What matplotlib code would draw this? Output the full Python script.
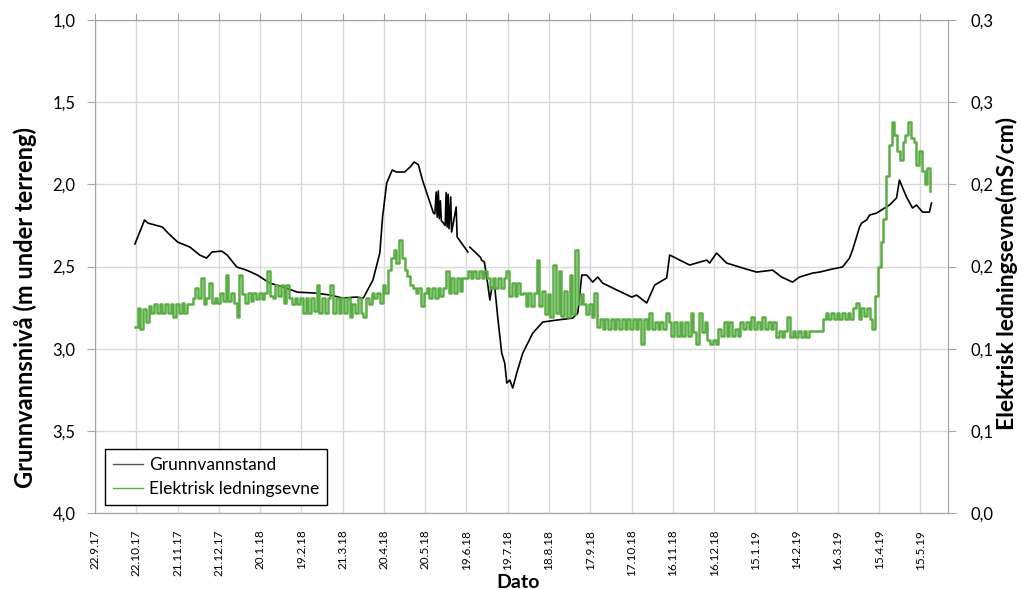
import datetime as dt
import numpy as np
import matplotlib
matplotlib.use("Agg")
import matplotlib.pyplot as plt

plt.rcParams['font.family'] = ['Lato', 'DejaVu Sans']

start = dt.datetime(2017, 9, 22)
tick_days = list(range(0, 601, 30))

# groundwater level, days after 22.9.17 -> m under terrain (NaN = gap in logging)
black_days = [29, 36, 38.5, 49, 53, 60, 69, 76, 81, 85, 92, 96, 103, 110, 118,
              127, 137, 147, 161, 171, 180, 190, 195, 202, 207, 209, 212, 216,
              219, 225, 229, 232, 235, 238, 246,
              247, 248, 248.7, 249.5, 250.2, 251, 251.7, 254.5, 255.2, 255.9,
              256.6, 257.3, 258.5, 259.2, 262.5, 263.2, 271, 271.7,
              272.4, 280, 281, 283, 285, 287, 288.4, 290.6, 292.7, 295.6, 297.8,
              299.3, 301.5, 303.6, 306.5, 310.9, 318.2, 325.4, 335.6, 347.2,
              350.9, 353.8, 357.4, 361.7, 365.4, 369, 379.2, 390.1, 393.7, 401,
              406.8, 410.4, 415.5, 417.7, 425, 432.2, 444.6, 446.7, 451.8, 459.1,
              470.7, 480.9, 492.5, 499, 507, 512.1, 521.6, 526.6, 536.1, 543.3,
              548.4, 550.6, 555.7, 557.2, 560.8, 563, 568.1, 573.9, 577.5, 582.6,
              584.7, 589.8, 594.2, 597.1, 601.5, 606.5, 608]
black_level = [2.363, 2.217, 2.236, 2.26, 2.296, 2.351, 2.382, 2.43, 2.449, 2.412,
               2.406, 2.43, 2.503, 2.522, 2.552, 2.601, 2.625, 2.656, 2.662,
               2.674, 2.692, 2.686, 2.692, 2.582, 2.418, 2.199, 1.992, 1.913,
               1.925, 1.925, 1.895, 1.864, 1.88, 1.974, 2.175,
               2.18, 2.047, 2.20, 2.04, 2.21, 2.10, 2.22, 2.25, 2.05, 2.26,
               2.06, 2.27, 2.077, 2.29, 2.138, 2.32, 2.412, np.nan,
               2.382, 2.443, 2.461, 2.473, 2.582, 2.704, 2.625, 2.631, 2.808,
               3.027, 3.088, 3.209, 3.191, 3.24, 3.149, 3.027, 2.905, 2.838,
               2.826, 2.814, 2.783, 2.552, 2.552, 2.595, 2.564, 2.601, 2.643,
               2.686, 2.674, 2.722, 2.613, 2.595, 2.57, 2.43, 2.461, 2.491,
               2.461, 2.479, 2.418, 2.479, 2.509, 2.534, 2.522, 2.564, 2.595,
               2.564, 2.54, 2.534, 2.515, 2.503, 2.449, 2.40, 2.26, 2.236,
               2.217, 2.187, 2.175, 2.144, 2.126, 2.083, 1.974, 2.077, 2.144,
               2.126, 2.169, 2.169, 2.114]

# electrical conductivity (mS/cm), one reading every 2nd day from day 29
green_first_day = 29
green_ec = [
    0.113, 0.125, 0.112, 0.124, 0.116, 0.126, 0.122, 0.127, 0.122, 0.127,
    0.122, 0.127, 0.122, 0.127, 0.119, 0.127, 0.122, 0.128, 0.122, 0.127,
    0.127, 0.131, 0.137, 0.131, 0.143, 0.127, 0.131, 0.140, 0.128, 0.131,
    0.128, 0.134, 0.129, 0.145, 0.129, 0.134, 0.128, 0.119, 0.145, 0.133,
    0.128, 0.134, 0.129, 0.134, 0.130, 0.134, 0.130, 0.134, 0.147, 0.132,
    0.131, 0.139, 0.132, 0.139, 0.128, 0.139, 0.131, 0.127, 0.131, 0.127,
    0.131, 0.122, 0.131, 0.122, 0.131, 0.123, 0.139, 0.122, 0.131, 0.122,
    0.131, 0.139, 0.122, 0.131, 0.122, 0.131, 0.122, 0.131, 0.119, 0.127,
    0.122, 0.131, 0.122, 0.119, 0.131, 0.127, 0.134, 0.131, 0.134, 0.128,
    0.139, 0.134, 0.148, 0.155, 0.160, 0.152, 0.166, 0.155, 0.148, 0.144,
    0.139, 0.137, 0.134, 0.137, 0.126, 0.134, 0.137, 0.131, 0.137, 0.131,
    0.137, 0.132, 0.137, 0.147, 0.134, 0.143, 0.134, 0.143, 0.135, 0.143,
    0.143, 0.147, 0.143, 0.147, 0.143, 0.147, 0.143, 0.147, 0.143, 0.137,
    0.143, 0.137, 0.143, 0.137, 0.143, 0.147, 0.132, 0.140, 0.132, 0.140,
    0.133, 0.134, 0.126, 0.134, 0.126, 0.134, 0.154, 0.126, 0.135, 0.121,
    0.133, 0.119, 0.151, 0.122, 0.147, 0.120, 0.135, 0.119, 0.145, 0.121,
    0.160, 0.127, 0.133, 0.127, 0.121, 0.127, 0.119, 0.134, 0.113, 0.118,
    0.112, 0.118, 0.112, 0.118, 0.112, 0.118, 0.112, 0.118, 0.112, 0.118,
    0.112, 0.118, 0.112, 0.118, 0.103, 0.118, 0.112, 0.122, 0.112, 0.116,
    0.112, 0.116, 0.112, 0.122, 0.116, 0.108, 0.116, 0.108, 0.116, 0.108,
    0.116, 0.108, 0.122, 0.110, 0.103, 0.122, 0.110, 0.116, 0.105, 0.103,
    0.105, 0.103, 0.112, 0.108, 0.116, 0.108, 0.116, 0.108, 0.112, 0.108,
    0.116, 0.112, 0.116, 0.112, 0.119, 0.112, 0.116, 0.112, 0.119, 0.112,
    0.116, 0.112, 0.116, 0.107, 0.111, 0.107, 0.111, 0.119, 0.107, 0.111,
    0.107, 0.111, 0.107, 0.111, 0.107, 0.111, 0.111, 0.111, 0.111, 0.111,
    0.118, 0.122, 0.118, 0.122, 0.118, 0.122, 0.118, 0.122, 0.118, 0.122,
    0.118, 0.125, 0.128, 0.118, 0.125, 0.120, 0.125, 0.118, 0.112, 0.132,
    0.150, 0.165, 0.179, 0.205, 0.224, 0.238, 0.230, 0.220, 0.215, 0.226,
    0.230, 0.238, 0.228, 0.226, 0.212, 0.220, 0.208, 0.200, 0.210, 0.196,
]

left_ticks = [1.0, 1.5, 2.0, 2.5, 3.0, 3.5, 4.0]
right_ticks = [0.0, 0.05, 0.10, 0.15, 0.20, 0.25, 0.30]
right_labels = ["0,0", "0,1", "0,1", "0,2", "0,2", "0,3", "0,3"]


def to_dates(days):
    return [start + dt.timedelta(days=float(d)) for d in days]


black_dates = to_dates(black_days)
green_dates = to_dates([green_first_day + 2 * i for i in range(len(green_ec))])
tick_dates = to_dates(tick_days)

fig = plt.figure(figsize=(10.22, 5.9), dpi=100)
ax = fig.add_axes([0.093, 0.1305, 0.8346, 0.8356])
ax2 = ax.twinx()

spine_col = "#a6a6a6"
grid_col = "#d9d9d9"

l1, = ax.plot(black_dates, black_level, color="black", lw=1.2)
l2, = ax2.plot(green_dates, green_ec, color="#5aae45", lw=1.8, drawstyle="steps-post")

ax.set_xlim(start, start + dt.timedelta(days=620))
ax.set_ylim(4.0, 1.0)
ax2.set_ylim(0.0, 0.3)

ax.set_yticks(left_ticks)
ax.set_yticklabels([f"{v:.1f}".replace(".", ",") for v in left_ticks], fontsize=12)
ax2.set_yticks(right_ticks)
ax2.set_yticklabels(right_labels, fontsize=12)

ax.set_xticks(tick_dates)
ax.set_xticklabels([f"{d.day}.{d.month}.{d.strftime('%y')}" for d in tick_dates],
                   rotation=90, fontsize=8.5)

ax.tick_params(axis="x", top=True, bottom=False, labelbottom=True, length=5,
               color=spine_col, pad=7)
ax.tick_params(axis="y", length=6, color=spine_col, pad=8)
ax2.tick_params(axis="y", length=6, color=spine_col, pad=10)

ax.set_axisbelow(True)
ax.grid(True, color=grid_col, lw=1)
for a in (ax, ax2):
    for s in a.spines.values():
        s.set_color(spine_col)

ax.set_ylabel("Grunnvannsnivå (m under terreng)", fontsize=17, fontweight="bold")
ax.yaxis.set_label_coords(-0.068, 0.416)
ax2.set_ylabel("Elektrisk ledningsevne(mS/cm)", fontsize=16.5, fontweight="bold")
ax2.yaxis.set_label_coords(1.0563, 0.485)
fig.text(0.507, 0.012, "Dato", fontsize=14, fontweight="bold", ha="center", va="center")

leg = ax2.legend([l1, l2], ["Grunnvannstand", "Elektrisk ledningsevne"],
                 loc="lower left", bbox_to_anchor=(0.012, 0.016), borderaxespad=0,
                 fancybox=False, edgecolor="black", fontsize=12.5, handlelength=1.7,
                 handletextpad=0.35, labelspacing=0.5, borderpad=0.45, framealpha=1)
leg.get_frame().set_linewidth(1.0)
leg.legend_handles[0].set_color("#555555")
leg.legend_handles[0].set_linewidth(1.0)
leg.legend_handles[1].set_linewidth(1.0)

fig.savefig("out.png", dpi=100)
